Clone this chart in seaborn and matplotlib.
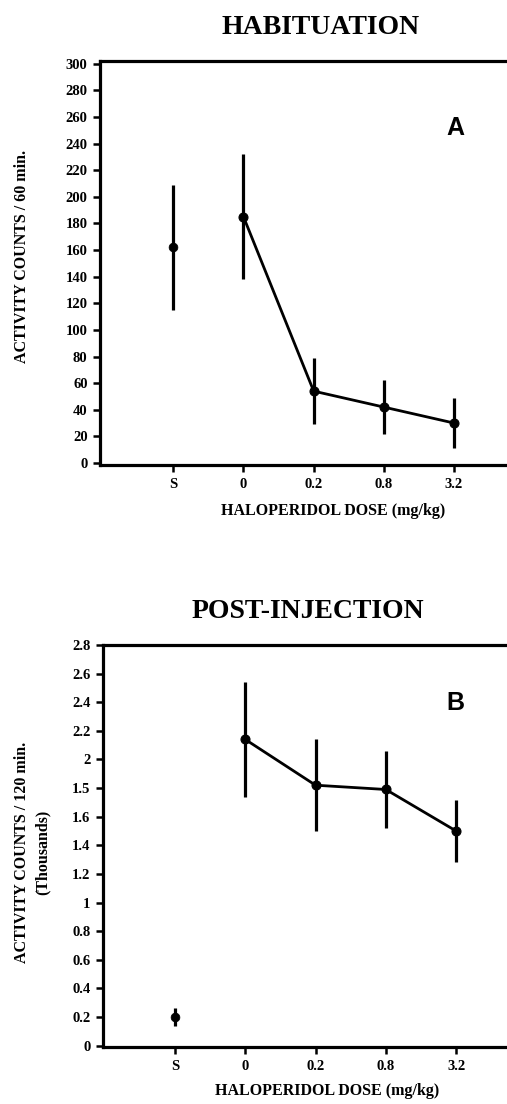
import numpy as np
import pandas as pd
import matplotlib
matplotlib.use("Agg")
import matplotlib.pyplot as plt
import seaborn as sns

# ---- data ----
categories = ["S", "0", "0.2", "0.8", "3.2"]
hab_mean = [162, 185, 54, 42, 30]
hab_err = [47, 47, 25, 20, 19]
post_mean = [0.20, 2.14, 1.82, 1.79, 1.50]
post_err = [0.06, 0.40, 0.32, 0.27, 0.22]
hab_yticks = list(range(0, 301, 20))
post_yticks = [0, 0.2, 0.4, 0.6, 0.8, 1.0, 1.2, 1.4, 1.6, 1.8, 2.0, 2.2, 2.4, 2.6, 2.8]
post_yticklabels = ["0", "0.2", "0.4", "0.6", "0.8", "1", "1.2", "1.4", "1.6", "1.5",
                    "2", "2.2", "2.4", "2.6", "2.8"]

sns.set_theme(style="white")
plt.rcParams["font.family"] = ["Liberation Serif", "DejaVu Serif"]
plt.rcParams["text.color"] = "black"

fig = plt.figure(figsize=(5.07, 11.04), dpi=100)
ax1 = fig.add_axes([100/507, 1-465/1104, 406/507, 404/1104])
ax2 = fig.add_axes([103/507, 1-1047/1104, 403/507, 402/1104])

pos = np.arange(len(categories))


def draw(ax, mean, err):
    df = pd.DataFrame({"pos": pos, "mean": mean, "err": err, "cat": categories})
    drug = df.iloc[1:]
    sns.lineplot(data=drug, x="pos", y="mean", ax=ax, color="black", lw=2.0,
                 marker="o", markersize=6.5, markeredgecolor="black", sort=False,
                 errorbar=None)
    sns.scatterplot(data=df.iloc[:1], x="pos", y="mean", ax=ax, color="black",
                    s=40, edgecolor="black", zorder=3)
    ax.errorbar(df["pos"], df["mean"], yerr=df["err"], fmt="none",
                ecolor="black", elinewidth=2.3, capsize=0)


draw(ax1, hab_mean, hab_err)
draw(ax2, post_mean, post_err)

tick_font = dict(fontsize=10.5, fontweight="bold", family="Liberation Serif", color="black")
label_font = dict(fontsize=11.5, fontweight="bold", family="Liberation Serif", color="black")

for ax in (ax1, ax2):
    ax.set_xticks(pos)
    ax.set_xticklabels(categories, **tick_font)
    for s in ["left", "bottom", "top"]:
        ax.spines[s].set_visible(True)
        ax.spines[s].set_color("black")
        ax.spines[s].set_linewidth(2.3)
    ax.spines["right"].set_visible(False)
    ax.tick_params(axis="both", direction="out", length=5, width=1.8,
                   colors="black", left=True, bottom=True, pad=4)
    ax.set_xlabel("")
    ax.set_ylabel("")
    ax.grid(False)

ax1.set_xlim(-1.044, 4.74)
ax1.set_ylim(-1.5, 302)
ax1.set_yticks(hab_yticks)
ax1.set_yticklabels([str(v) for v in hab_yticks], **tick_font)

ax2.set_xlim(-1.024, 4.71)
ax2.set_ylim(-0.01, 2.785)
ax2.set_yticks(post_yticks)
ax2.set_yticklabels(post_yticklabels, **tick_font)

# x labels
ax1.set_xlabel("HALOPERIDOL DOSE (mg/kg)", **label_font)
ax1.xaxis.set_label_coords((333-100)/406, -(503-465)/404)
ax2.set_xlabel("HALOPERIDOL DOSE (mg/kg)", **label_font)
ax2.xaxis.set_label_coords((327-103)/403, -(1083-1047)/402)

# y labels
fig.text(22/507, 1-256/1104, "ACTIVITY COUNTS / 60 min.", rotation=90,
         ha="center", va="center", **label_font)
fig.text(22/507, 1-852/1104, "ACTIVITY COUNTS / 120 min.", rotation=90,
         ha="center", va="center", **label_font)
fig.text(43/507, 1-852/1104, "(Thousands)", rotation=90,
         ha="center", va="center", **label_font)

# titles
fig.text(321/507, 1-27/1104, "HABITUATION", ha="center", va="center",
         fontsize=20, fontweight="bold", family="Liberation Serif", color="black")
fig.text(308/507, 1-612/1104, "POST-INJECTION", ha="center", va="center",
         fontsize=20, fontweight="bold", family="Liberation Serif", color="black")

# panel letters
fig.text(455/507, 1-128/1104, "A", ha="center", va="center",
         fontsize=18, fontweight="bold", family="Liberation Sans", color="black")
fig.text(455/507, 1-703/1104, "B", ha="center", va="center",
         fontsize=18, fontweight="bold", family="Liberation Sans", color="black")

fig.savefig("out.png", dpi=100, facecolor="white")
